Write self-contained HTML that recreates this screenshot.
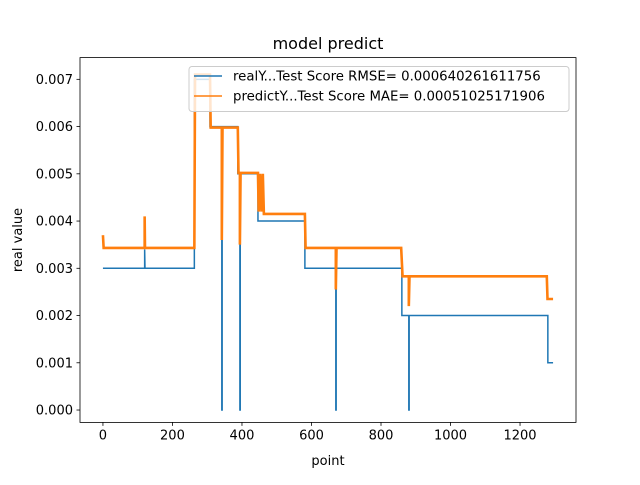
<!DOCTYPE html>
<html><head><meta charset="utf-8"><style>
body{margin:0;background:#fff}
svg text{font-family:"DejaVu Sans","Liberation Sans",sans-serif;fill:#000}
</style></head><body>
<svg id="c" width="640" height="480" xmlns="http://www.w3.org/2000/svg"></svg>
<script>
const realX=[0,120,120,121,263,263,308,308,342,342,343,343,388,388,394,394,395,395,446,446,581,581,670,670,671,671,860,860,880,880,881,881,1280,1280,1295];
const realY=[.003,.003,.0034,.003,.003,.007,.007,.006,.006,0,0,.006,.006,.005,.005,0,0,.005,.005,.004,.004,.003,.003,0,0,.003,.003,.002,.002,0,0,.002,.002,.001,.001];
const predX=[0,2,120,120,121,263,265,308,310,342,342,344,388,390,394,394,396,446,448,452,456,460,463,581,583,670,670,672,858,862,880,880,882,1277,1279,1295];
const predY=[.0037,.00343,.00343,.0041,.00343,.00343,.0071,.0071,.00598,.00598,.0036,.00598,.00598,.00502,.00502,.0035,.00502,.00502,.0042,.005,.0042,.005,.00415,.00415,.00343,.00343,.00255,.00343,.00343,.00283,.00283,.0022,.00283,.00283,.00235,.00235];
const xTicks=[0,200,400,600,800,1000,1200];
const yTicks=[0,.001,.002,.003,.004,.005,.006,.007];
const yTickLabels=["0.000","0.001","0.002","0.003","0.004","0.005","0.006","0.007"];
const L=80,R=576,T=57.6,B=422.4;
const xmin=-66,xmax=1361,ymin=-0.000262,ymax=0.00746;
const sx=v=>L+(v-xmin)/(xmax-xmin)*(R-L);
const sy=v=>B-(v-ymin)/(ymax-ymin)*(B-T);
const svg=document.getElementById('c');
const NS='http://www.w3.org/2000/svg';
function mk(t,a,txt){const e=document.createElementNS(NS,t);for(const k in a)e.setAttribute(k,a[k]);if(txt!==undefined)e.textContent=txt;svg.appendChild(e);return e;}
function line(xs,ys,col,w,name){
  const d=xs.map((x,i)=>(i?'L':'M')+sx(x).toFixed(2)+','+sy(ys[i]).toFixed(2)).join('');
  const p=mk('path',{d:d,fill:'none',stroke:col,'stroke-width':w,'stroke-linejoin':'miter'});
  
  
}
line(realX,realY,'#1f77b4',1.5,'real-series');
line(predX,predY,'#ff7f0e',2.6,'predict-series');
const fr=mk('rect',{x:L,y:T,width:R-L,height:B-T,fill:'none',stroke:'#000','stroke-width':0.8});


xTicks.forEach(v=>{
  const tk=mk('line',{x1:sx(v),x2:sx(v),y1:B,y2:B+3.5,stroke:'#000','stroke-width':0.8});
  
  
  const t=mk('text',{x:sx(v),y:B+17,'text-anchor':'middle','font-size':13},String(v));
  
  
});
yTicks.forEach((v,i)=>{
  const tk=mk('line',{x1:L-3.5,x2:L,y1:sy(v),y2:sy(v),stroke:'#000','stroke-width':0.8});
  
  
  const t=mk('text',{x:L-7,y:sy(v)+4.5,'text-anchor':'end','font-size':13},yTickLabels[i]);
  
  
});
const ti=mk('text',{x:328,y:49,'text-anchor':'middle','font-size':16},'model predict');


const xl=mk('text',{x:328,y:465,'text-anchor':'middle','font-size':13},'point');


const yl=mk('text',{x:22,y:240,'text-anchor':'middle','font-size':13,transform:'rotate(-90 22 240)'},'real value');


const lg=mk('rect',{x:189,y:66.5,width:380,height:45,rx:3,fill:'#fff','fill-opacity':0.8,stroke:'#ccc','stroke-width':1});


[['#1f77b4','realY...Test Score RMSE= 0.000640261611756',76],['#ff7f0e','predictY...Test Score MAE= 0.00051025171906',96]].forEach((e,i)=>{
  const s=mk('line',{x1:194,x2:222,y1:e[2],y2:e[2],stroke:e[0],'stroke-width':1.5});
  
  
  const t=mk('text',{x:233,y:e[2]+4.5,'font-size':13.3},e[1]);
  
  
});
</script>
</body></html>
